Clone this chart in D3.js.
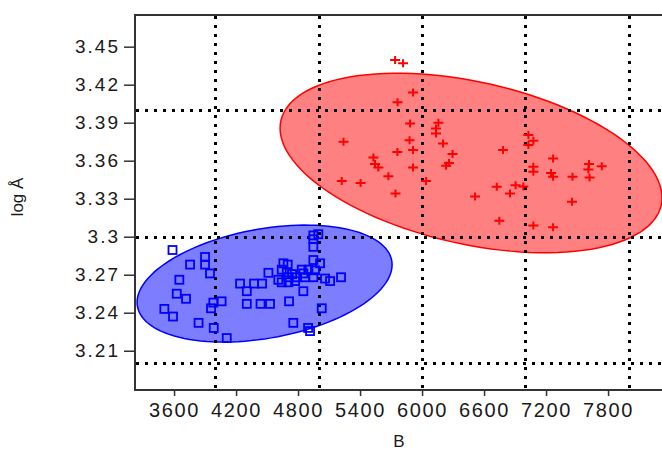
<html>
  <head>
    <script src="https://cdnjs.cloudflare.com/ajax/libs/d3/7.8.5/d3.min.js"></script>
    <style>
      body { margin: 0; background: #fff; }
      text { font-family: "Liberation Sans", Arial, sans-serif; fill: #1a1a1a; }
    </style>
  </head>
  <body>
    <div id="chart"></div>
    <script>
      // blue group (squares)
      const blueB = [3585, 3900, 3900, 3755, 3948, 3651, 3626, 3716, 3506, 3590,
        3837, 3984, 4110, 3980, 4060, 3958, 4239, 4304, 4374, 4452,
        4304, 4437, 4529, 4513, 4713, 4754, 4897, 4658, 4700, 4642,
        4691, 4836, 4900, 4964, 4706, 4787, 4868, 4948, 5061, 4642,
        4706, 4771, 4609, 5110, 5216, 4851, 5029, 4948, 4996, 4948,
        4948, 4948, 5013, 4851, 4742, 4916];
      const blueLogA = [3.2895, 3.284, 3.278, 3.278, 3.271, 3.266, 3.255, 3.251, 3.243, 3.237,
        3.232, 3.228, 3.22, 3.248, 3.249, 3.2435, 3.263, 3.257, 3.263, 3.263,
        3.247, 3.247, 3.247, 3.2715, 3.249, 3.232, 3.228, 3.279, 3.278, 3.274,
        3.272, 3.274, 3.274, 3.2735, 3.268, 3.268, 3.268, 3.268, 3.267, 3.264,
        3.264, 3.265, 3.266, 3.265, 3.268, 3.257, 3.2435, 3.301, 3.302, 3.298,
        3.292, 3.2816, 3.279, 3.271, 3.2705, 3.2255];

      // red group (crosses)
      const redB = [5739, 5816, 5913, 5763, 5884, 6158, 6135, 6135, 5240, 5879,
        5913, 5761, 5529, 5545, 5577, 5913, 6203, 6295, 6232, 6784,
        5674, 5223, 5405, 6039, 5743, 6513, 6723, 6851, 6905, 6980,
        6748, 7029, 7077, 7029, 7268, 7077, 7077, 7248, 7268, 7456,
        7616, 7609, 7739, 7621, 7451, 7077, 7268, 6261];
      const redLogA = [3.4394, 3.437, 3.4139, 3.4062, 3.3894, 3.3899, 3.3855, 3.3815, 3.3749, 3.3762,
        3.3684, 3.3668, 3.3626, 3.3573, 3.3547, 3.3547, 3.3736, 3.3652, 3.3561, 3.3684,
        3.3478, 3.3439, 3.3423, 3.3439, 3.3342, 3.3317, 3.3394, 3.3342, 3.3407, 3.3396,
        3.3126, 3.3802, 3.3758, 3.3723, 3.3618, 3.3553, 3.3512, 3.3502, 3.3473, 3.3473,
        3.3573, 3.353, 3.3557, 3.3467, 3.3276, 3.3088, 3.3074, 3.3581];

      // ellipses: centre, two conjugate half-axes (data units)
      const blueEllipse = { c: [4476, 3.263], u: [1234, 0.01483], v: [0, 0.0437] };
      const redEllipse = { c: [6474, 3.3582], u: [1848, -0.02746], v: [0, -0.0653] };

      const xTicks = [3600, 4200, 4800, 5400, 6000, 6600, 7200, 7800];
      const yTicks = [3.21, 3.24, 3.27, 3.3, 3.33, 3.36, 3.39, 3.42, 3.45];
      const yTickLabels = ["3.21", "3.24", "3.27", "3.3", "3.33", "3.36", "3.39", "3.42", "3.45"];
      const xGrid = [4000, 5000, 6000, 7000, 8000];
      const yGrid = [3.2, 3.3, 3.4];

      const w = 662;
      const h = 452;
      const mLeft = 135, mRight = 662, mTop = 15, mBottom = 390;

      const x = d3.scaleLinear().domain([3222, 8322]).range([mLeft, mRight]);
      const y = d3.scaleLinear().domain([3.179, 3.475]).range([mBottom, mTop]);

      const svg = d3
        .select("#chart")
        .append("svg")
        .attr("width", w)
        .attr("height", h);

      const ellipsePath = (e) => {
        const pts = d3.range(0, 120).map((i) => {
          const t = (i / 120) * 2 * Math.PI;
          return [
            e.c[0] + e.u[0] * Math.cos(t) + e.v[0] * Math.sin(t),
            e.c[1] + e.u[1] * Math.cos(t) + e.v[1] * Math.sin(t),
          ];
        });
        return d3
          .line()
          .x((d) => x(d[0]))
          .y((d) => y(d[1]))
          .curve(d3.curveLinearClosed)(pts);
      };

      svg
        .append("path")
        .attr("d", ellipsePath(redEllipse))
        .attr("fill", "#ff8080")
        .attr("stroke", "#ff0000")
        .attr("stroke-width", 1.5);

      svg
        .append("path")
        .attr("d", ellipsePath(blueEllipse))
        .attr("fill", "#7d7dff")
        .attr("stroke", "#0000ff")
        .attr("stroke-width", 1.5);

      // dotted grid
      const grid = svg.append("g").attr("stroke", "#000").attr("stroke-width", 3)
        .attr("stroke-dasharray", "3,6");
      grid
        .selectAll(".vg")
        .data(xGrid)
        .enter()
        .append("line")
        .attr("x1", (d) => Math.round(x(d)) + 0.5)
        .attr("x2", (d) => Math.round(x(d)) + 0.5)
        .attr("y1", mTop + 1)
        .attr("y2", mBottom);
      grid
        .selectAll(".hg")
        .data(yGrid)
        .enter()
        .append("line")
        .attr("y1", (d) => Math.round(y(d)) + 0.5)
        .attr("y2", (d) => Math.round(y(d)) + 0.5)
        .attr("x1", mLeft + 1)
        .attr("x2", mRight);

      // points
      svg
        .append("g")
        .selectAll("rect")
        .data(d3.zip(blueB, blueLogA))
        .enter()
        .append("rect")
        .attr("x", (d) => x(d[0]) - 4)
        .attr("y", (d) => y(d[1]) - 4)
        .attr("width", 8)
        .attr("height", 8)
        .attr("fill", "none")
        .attr("stroke", "#0000ff")
        .attr("stroke-width", 1.8);

      svg
        .append("g")
        .selectAll("path")
        .data(d3.zip(redB, redLogA))
        .enter()
        .append("path")
        .attr("transform", (d) => "translate(" + x(d[0]) + "," + y(d[1]) + ")")
        .attr("d", "M-5,0H5M0,-4V4")
        .attr("stroke", "#ff0000")
        .attr("stroke-width", 2);

      // frame
      svg
        .append("path")
        .attr("d", `M${mRight},${mTop}H${mLeft}V${mBottom}H${mRight}`)
        .attr("fill", "none")
        .attr("stroke", "#333")
        .attr("stroke-width", 2);

      const xAxis = d3.axisBottom(x).tickValues(xTicks).tickSize(6).tickPadding(7)
        .tickFormat((d) => d);
      svg
        .append("g")
        .attr("transform", "translate(0," + mBottom + ")")
        .call(xAxis)
        .call((g) => g.select(".domain").remove())
        .call((g) => g.selectAll("line").attr("stroke", "#333").attr("stroke-width", 1.5))
        .call((g) => g.selectAll("text").attr("font-size", 20).attr("letter-spacing", 1.6)
          .attr("font-family", "Liberation Sans, Arial, sans-serif").attr("fill", "#1a1a1a"));

      const yAxis = d3.axisLeft(y).tickValues(yTicks).tickSize(11).tickPadding(4)
        .tickFormat((d, i) => yTickLabels[i]);
      svg
        .append("g")
        .attr("transform", "translate(" + mLeft + ",0)")
        .call(yAxis)
        .call((g) => g.select(".domain").remove())
        .call((g) => g.selectAll("line").attr("stroke", "#333").attr("stroke-width", 1.5))
        .call((g) => g.selectAll("text").attr("font-size", 19).attr("letter-spacing", 2)
          .attr("font-family", "Liberation Sans, Arial, sans-serif").attr("fill", "#1a1a1a"));

      svg
        .append("text")
        .attr("transform", "translate(23,197) rotate(-90)")
        .attr("text-anchor", "middle")
        .attr("font-size", 17)
        .text("log Å");

      svg
        .append("text")
        .attr("x", 399)
        .attr("y", 447)
        .attr("text-anchor", "middle")
        .attr("font-size", 17)
        .text("B");
    </script>
  </body>
</html>
